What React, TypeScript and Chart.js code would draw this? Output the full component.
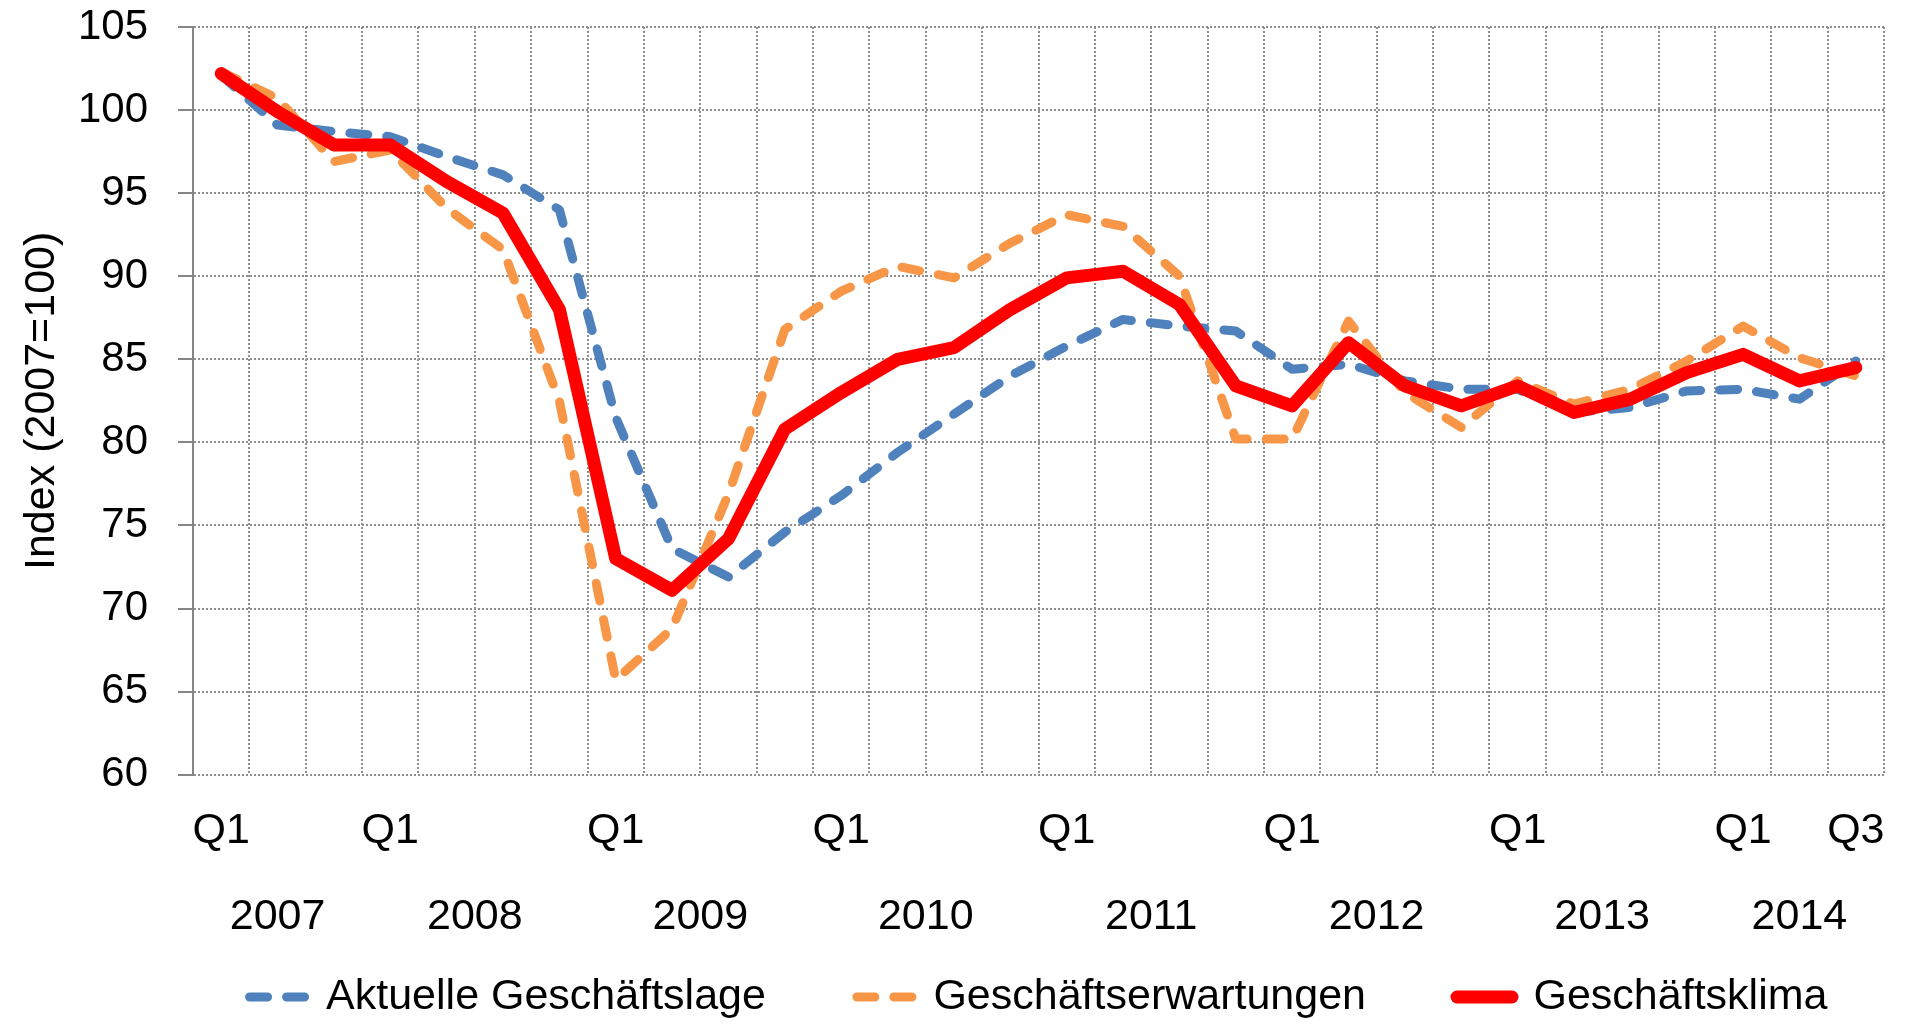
import React, { useEffect, useRef } from 'react';
import { Chart, registerables } from 'chart.js';

Chart.register(...registerables);

// Tick labels as printed under each quarter (Q2 2007 … Q3 2014)
const quarterTicks = [
  'Q1', '', '',
  'Q1', '', '', '',
  'Q1', '', '', '',
  'Q1', '', '', '',
  'Q1', '', '', '',
  'Q1', '', '', '',
  'Q1', '', '', '',
  'Q1', '', 'Q3',
];

// Year each quarter belongs to
const pointYears = [
  2007, 2007, 2007,
  2008, 2008, 2008, 2008,
  2009, 2009, 2009, 2009,
  2010, 2010, 2010, 2010,
  2011, 2011, 2011, 2011,
  2012, 2012, 2012, 2012,
  2013, 2013, 2013, 2013,
  2014, 2014, 2014,
];

const aktuelleGeschaeftslage = [
  102.1, 99.1, 98.7, 98.4, 97.2, 96.1, 94.0, 81.5, 73.6, 71.9,
  74.6, 76.8, 79.4, 81.7, 84.0, 85.8, 87.4, 87.0, 86.7, 84.4,
  84.7, 83.7, 83.2, 83.2, 81.8, 82.1, 83.1, 83.2, 82.6, 84.9,
];

const geschaeftserwartungen = [
  102.3, 100.7, 96.9, 97.6, 94.1, 91.6, 82.5, 65.7, 68.8, 76.9,
  86.8, 89.1, 90.6, 89.9, 92.0, 93.7, 93.0, 90.0, 80.2, 80.2,
  87.3, 83.0, 80.9, 83.7, 82.3, 83.2, 84.9, 87.0, 85.1, 84.0,
];

const geschaeftsklima = [
  102.2, 99.9, 97.9, 97.9, 95.7, 93.8, 88.0, 73.0, 71.1, 74.2,
  80.8, 83.0, 85.0, 85.7, 88.0, 89.9, 90.3, 88.3, 83.4, 82.2,
  86.0, 83.4, 82.2, 83.4, 81.8, 82.6, 84.2, 85.3, 83.7, 84.5,
];

const seriesLabels = ['Aktuelle Geschäftslage', 'Geschäftserwartungen', 'Geschäftsklima'];

const yMin = 60;
const yMax = 105;
const yStep = 5;

// year labels and their centres (mean index of the quarters of each year)
const yearLabels: string[] = [];
const yearCenters: number[] = [];
{
  const groups: Record<string, number[]> = {};
  pointYears.forEach((y, i) => {
    const k = String(y);
    if (!groups[k]) { groups[k] = []; yearLabels.push(k); }
    groups[k].push(i);
  });
  yearLabels.forEach((k) => {
    const idx = groups[k];
    yearCenters.push(idx.reduce((a, b) => a + b, 0) / idx.length);
  });
}

const FONT = 'Liberation Sans, Arial, sans-serif';
const GRID = '#8e8e8e';
const AXIS = '#868686';
const DASH = [18, 19];

const centerLegendPlugin = {
  id: 'centerLegendOnArea',
  afterLayout(chart: any) {
    const l = chart.legend;
    if (!l) return;
    const ca = chart.chartArea;
    const dx = (ca.left + ca.right) / 2 - (l.left + l.right) / 2;
    l.left += dx;
    l.right += dx;
  },
};

export default function App() {
  const ref = useRef<HTMLCanvasElement | null>(null);

  useEffect(() => {
    if (!ref.current) return;
    Chart.defaults.font.family = FONT;
    Chart.defaults.color = '#000';

    const chart = new Chart(ref.current, {
      type: 'line',
      data: {
        labels: quarterTicks,
        datasets: [
          {
            label: seriesLabels[0],
            data: aktuelleGeschaeftslage,
            borderColor: '#4F81BD',
            backgroundColor: '#4F81BD',
            borderWidth: 9,
            borderDash: DASH,
            borderCapStyle: 'round',
            borderJoinStyle: 'round',
            pointRadius: 0,
            pointHoverRadius: 0,
            tension: 0,
            fill: false,
            order: 3,
          },
          {
            label: seriesLabels[1],
            data: geschaeftserwartungen,
            borderColor: '#F79646',
            backgroundColor: '#F79646',
            borderWidth: 9,
            borderDash: DASH,
            borderCapStyle: 'round',
            borderJoinStyle: 'round',
            pointRadius: 0,
            pointHoverRadius: 0,
            tension: 0,
            fill: false,
            order: 2,
          },
          {
            label: seriesLabels[2],
            data: geschaeftsklima,
            borderColor: '#FF0000',
            backgroundColor: '#FF0000',
            borderWidth: 13,
            borderCapStyle: 'round',
            borderJoinStyle: 'round',
            pointRadius: 0,
            pointHoverRadius: 0,
            tension: 0,
            fill: false,
            order: 1,
          },
        ],
      },
      options: {
        animation: false,
        responsive: true,
        maintainAspectRatio: false,
        devicePixelRatio: 1,
        events: [],
        layout: { padding: { top: 27, right: 23, bottom: 0, left: 0 } },
        scales: {
          x: {
            type: 'category',
            position: 'bottom',
            weight: 1,
            offset: true,
            grid: {
              display: true,
              offset: true,
              color: GRID,
              lineWidth: 2,
              drawTicks: false,
            },
            border: { display: false, dash: [2, 2] },
            ticks: {
              autoSkip: false,
              maxRotation: 0,
              minRotation: 0,
              padding: 30.5,
              color: '#000',
              font: { size: 43 },
            },
            afterFit: (s: any) => {
              s.height = 81.3;
              s.paddingLeft = 0;
              s.paddingRight = 0;
            },
          },
          x2: {
            type: 'linear',
            position: 'bottom',
            weight: 2,
            min: -0.5,
            max: quarterTicks.length - 0.5,
            offset: false,
            grid: { display: false, drawTicks: false },
            border: { display: false },
            ticks: {
              autoSkip: false,
              maxRotation: 0,
              minRotation: 0,
              padding: 35.2,
              color: '#000',
              font: { size: 43 },
              callback: (_v: any, i: number) => yearLabels[i],
            },
            afterBuildTicks: (s: any) => {
              s.ticks = yearCenters.map((v) => ({ value: v }));
            },
            afterFit: (s: any) => {
              s.height = 28.5;
              s.paddingLeft = 0;
              s.paddingRight = 0;
              // let the year labels extend below this thin box
              s._computeLabelArea = () => undefined;
            },
          },
          y: {
            type: 'linear',
            position: 'left',
            min: yMin,
            max: yMax,
            grid: {
              color: GRID,
              lineWidth: 2,
              drawTicks: true,
              tickLength: 15,
              tickColor: AXIS,
              tickWidth: 2,
              tickBorderDash: [],
            },
            border: { display: true, color: AXIS, width: 2, dash: [2, 2] },
            ticks: {
              stepSize: yStep,
              padding: 30,
              color: '#000',
              font: { size: 42 },
            },
            title: {
              display: true,
              text: 'Index (2007=100)',
              color: '#000',
              font: { size: 43 },
              padding: { top: 16, bottom: 0 },
            },
            afterFit: (s: any) => {
              s.width = 193;
              s.paddingTop = 25;
              s.paddingBottom = 25;
            },
          },
        },
        plugins: {
          tooltip: { enabled: false },
          legend: {
            display: true,
            position: 'bottom',
            maxHeight: 139.5,
            labels: {
              usePointStyle: true,
              pointStyle: 'line',
              pointStyleWidth: 55,
              padding: 91,
              color: '#000',
              font: { size: 43 },
              generateLabels: (c: any) =>
                c.data.datasets.map((ds: any, i: number) => ({
                  text: ds.label,
                  fillStyle: ds.borderColor,
                  strokeStyle: ds.borderColor,
                  fontColor: '#000',
                  lineWidth: ds.borderWidth,
                  lineDash: ds.borderDash || [],
                  lineCap: 'round',
                  lineJoin: 'round',
                  pointStyle: 'line',
                  hidden: false,
                  datasetIndex: i,
                })),
            },
          },
        },
      },
      plugins: [centerLegendPlugin],
    } as any);

    return () => chart.destroy();
  }, []);

  return (
    <div style={{ position: 'fixed', left: 0, top: 0, width: 1907, height: 1024, background: '#fff' }}>
      <canvas ref={ref} />
    </div>
  );
}
